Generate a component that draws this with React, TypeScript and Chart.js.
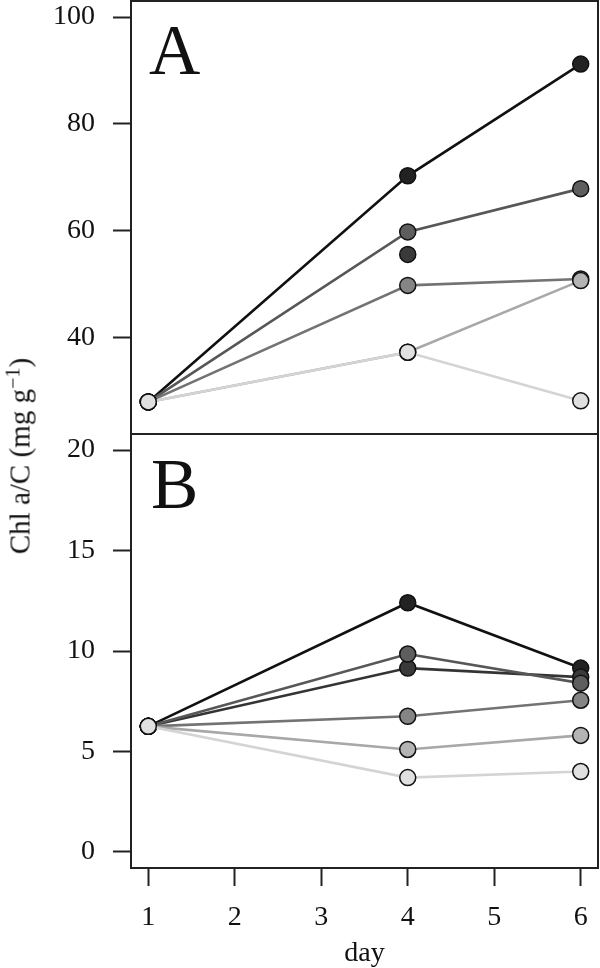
import React, { useEffect, useRef } from "react";
import { Chart, registerables } from "chart.js";
Chart.register(...registerables);

// ---- data ----
const days = [1, 4, 6];
const xTickValues = [1, 2, 3, 4, 5, 6];
const yTicksA = [40, 60, 80, 100];
const yTicksB = [0, 5, 10, 15, 20];

// Panel A (series ordered light -> dark)
const aLightest = [28.0, 37.3, 28.2];
const aLight = [28.0, 37.3, 50.7];
const aMid = [28.0, 49.8, 51.0];
const aDark = [28.0, 59.8, 67.9];
const aDarker = [null, 55.6, null];
const aBlack = [28.0, 70.3, 91.2];

// Panel B
const bLightest = [6.25, 3.7, 4.0];
const bLight = [6.25, 5.1, 5.8];
const bMid = [6.25, 6.75, 7.55];
const bDark = [6.25, 9.85, 8.4];
const bDarker = [6.25, 9.15, 8.7];
const bBlack = [6.25, 12.4, 9.15];

const yTitleMain = "Chl a/C (mg g";
const yTitleSup = "\u22121";
const xTitle = "day";

// ---- styles ----
const FONT = "'Liberation Serif', 'Times New Roman', serif";
const styles = [
  { line: "#d4d4d4", fill: "#e0e0e0" },
  { line: "#a8a8a8", fill: "#b4b4b4" },
  { line: "#737373", fill: "#858585" },
  { line: "#575757", fill: "#5e5e5e" },
  { line: "#343434", fill: "#3a3a3a" },
  { line: "#111111", fill: "#222222" },
];

function makeDatasets(series: (number | null)[][]) {
  return series.map((vals, i) => ({
    data: days.map((d, j) => ({ x: d, y: vals[j] })),
    borderColor: styles[i].line,
    backgroundColor: styles[i].fill,
    pointBackgroundColor: styles[i].fill,
    pointBorderColor: "#111",
    pointBorderWidth: 1.5,
    pointRadius: 8,
    borderWidth: 2.6,
    spanGaps: false,
    tension: 0,
    clip: false,
  }));
}

const boxPlugin = {
  id: "box",
  afterDraw(chart: any, _args: any, opts: any) {
    const { ctx, chartArea: a } = chart;
    ctx.save();
    ctx.strokeStyle = "#222";
    ctx.lineWidth = 2;
    ctx.strokeRect(a.left, a.top, a.right - a.left, a.bottom - a.top);
    ctx.fillStyle = "#111";
    ctx.font = `71px ${FONT}`;
    ctx.textBaseline = "alphabetic";
    ctx.textAlign = "left";
    ctx.fillText(opts.label, a.left + opts.dx, a.top + opts.dy);
    ctx.restore();
  },
};

function yScale(min: number, max: number, ticks: number[]) {
  return {
    type: "linear",
    min,
    max,
    afterBuildTicks: (s: any) => {
      s.ticks = ticks.map((v) => ({ value: v }));
    },
    afterFit: (s: any) => {
      s.width = 131;
      s.paddingTop = 0;
      s.paddingBottom = 0;
    },
    grid: {
      drawOnChartArea: false,
      drawTicks: true,
      tickLength: 18,
      tickWidth: 2,
      tickColor: "#222",
    },
    border: { display: false },
    ticks: { font: { family: FONT, size: 28 }, color: "#111", padding: 18 },
  };
}

export default function App() {
  const refA = useRef<HTMLCanvasElement>(null);
  const refB = useRef<HTMLCanvasElement>(null);

  useEffect(() => {
    const chartA = new Chart(refA.current!, {
      type: "line",
      data: {
        datasets: makeDatasets([aLightest, aLight, aMid, aDark, aDarker, aBlack]) as any,
      },
      options: {
        animation: false,
        responsive: false,
        events: [],
        layout: { autoPadding: false, padding: { top: 1, right: 2, bottom: 2, left: 0 } },
        plugins: {
          legend: { display: false },
          tooltip: { enabled: false },
          box: { label: "A", dx: 18, dy: 73 },
        } as any,
        scales: {
          x: { type: "linear", min: 0.8, max: 6.2, display: false },
          y: yScale(22, 103, yTicksA) as any,
        },
      },
      plugins: [boxPlugin],
    });

    const chartB = new Chart(refB.current!, {
      type: "line",
      data: {
        datasets: makeDatasets([bLightest, bLight, bMid, bDark, bDarker, bBlack]) as any,
      },
      options: {
        animation: false,
        responsive: false,
        events: [],
        layout: { autoPadding: false, padding: { top: 2, right: 2, bottom: 0, left: 0 } },
        plugins: {
          legend: { display: false },
          tooltip: { enabled: false },
          box: { label: "B", dx: 20, dy: 74 },
        } as any,
        scales: {
          x: {
            type: "linear",
            min: 0.8,
            max: 6.2,
            afterBuildTicks: (s: any) => {
              s.ticks = xTickValues.map((v) => ({ value: v }));
            },
            afterFit: (s: any) => {
              s.height = 100;
              s.paddingLeft = 0;
              s.paddingRight = 0;
            },
            grid: {
              drawOnChartArea: false,
              drawTicks: true,
              tickLength: 18,
              tickWidth: 2,
              tickColor: "#222",
            },
            border: { display: false },
            ticks: {
              font: { family: FONT, size: 28 },
              color: "#111",
              padding: 15,
              maxRotation: 0,
              autoSkip: false,
            },
            title: {
              display: true,
              text: xTitle,
              font: { family: FONT, size: 28 },
              color: "#111",
              padding: { top: 0, bottom: -2 },
            },
          } as any,
          y: yScale(-0.8, 20.8, yTicksB) as any,
        },
      },
      plugins: [boxPlugin],
    });

    return () => {
      chartA.destroy();
      chartB.destroy();
    };
  }, []);

  return (
    <div
      style={{
        position: "fixed",
        left: 0,
        top: 0,
        width: 600,
        height: 968,
        background: "#fff",
        overflow: "hidden",
      }}
    >
      <canvas
        ref={refA}
        width={600}
        height={436}
        style={{ position: "absolute", left: 0, top: 0 }}
      />
      <canvas
        ref={refB}
        width={600}
        height={536}
        style={{ position: "absolute", left: 0, top: 432 }}
      />
      <div
        style={{
          position: "absolute",
          left: 20,
          top: 456,
          transform: "translate(-50%, -50%) rotate(-90deg)",
          whiteSpace: "nowrap",
          fontFamily: FONT,
          fontSize: 29,
          lineHeight: 1,
          color: "#111",
        }}
      >
        {yTitleMain}
        <sup style={{ fontSize: "0.7em", verticalAlign: "0.5em", lineHeight: 0 }}>{yTitleSup}</sup>
        {")"}
      </div>
    </div>
  );
}
